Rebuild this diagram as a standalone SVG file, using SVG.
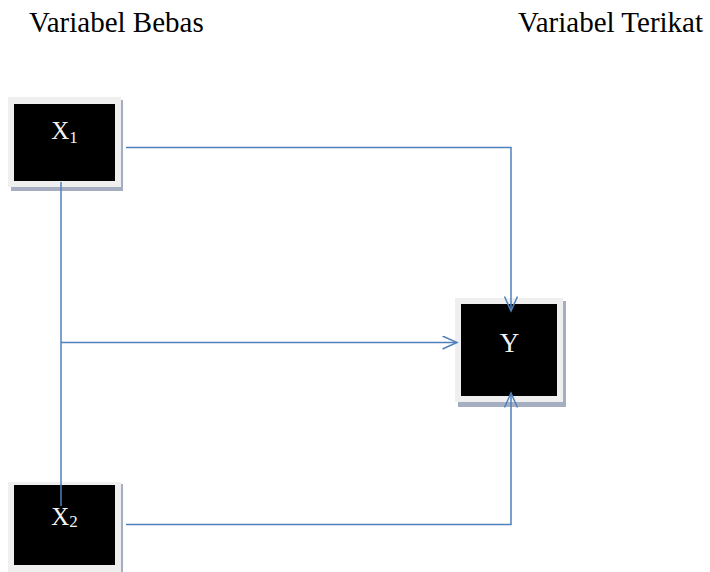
<svg xmlns="http://www.w3.org/2000/svg" width="710" height="572" viewBox="0 0 710 572">
  <style>
    .hdr { font-family: "Liberation Serif", "Times New Roman", serif; font-size: 29px; fill: #000; }
    .lbl { font-family: "Liberation Serif", "Times New Roman", serif; fill: #f2f2f2; text-anchor: middle; }
    .shadow { fill: #a4aec0; }
    .frame { fill: #efefef; }
    .core { fill: #000; }
    .conn { fill: none; stroke: #4f81bd; stroke-width: 1.5; }
  </style>
  <defs>
    <marker id="arrow" markerUnits="userSpaceOnUse" markerWidth="18" markerHeight="18" refX="15" refY="7" orient="auto">
      <path d="M0.5,0.5 L15,7 L0.5,13.5" fill="none" stroke="#4f81bd" stroke-width="1.5"/>
    </marker>
  </defs>
  <rect width="710" height="572" fill="#fff"/>

  <text class="hdr" x="29" y="32">Variabel Bebas</text>
  <text class="hdr" x="518" y="32">Variabel Terikat</text>

  <g id="node-x1">
    <rect class="shadow" x="11" y="100" width="112" height="91"/>
    <rect class="frame" x="8" y="97" width="113" height="90"/>
    <rect class="core" x="14" y="104" width="101" height="77"/>
    <text class="lbl" x="64.5" y="139" font-size="25">X<tspan font-size="17" dy="4">1</tspan></text>
  </g>

  <g id="node-x2">
    <rect class="shadow" x="11" y="484" width="112" height="92"/>
    <rect class="frame" x="8" y="482" width="113" height="94"/>
    <rect class="core" x="14" y="485" width="101" height="80"/>
    <text class="lbl" x="64.5" y="525" font-size="25">X<tspan font-size="17" dy="2">2</tspan></text>
  </g>

  <g id="node-y">
    <rect class="shadow" x="458" y="301" width="108" height="106"/>
    <rect class="frame" x="455" y="298" width="108" height="104"/>
    <rect class="core" x="461" y="304" width="96" height="92"/>
    <text class="lbl" x="509.5" y="352" font-size="27">Y</text>
  </g>

  <g id="connectors">
    <path class="conn" d="M126,147.5 H511 V311" marker-end="url(#arrow)"/>
    <path class="conn" d="M61,182 V506"/>
    <path class="conn" d="M61,342.5 H457" marker-end="url(#arrow)"/>
    <path class="conn" d="M126,524.5 H511 V393" marker-end="url(#arrow)"/>
  </g>
</svg>
